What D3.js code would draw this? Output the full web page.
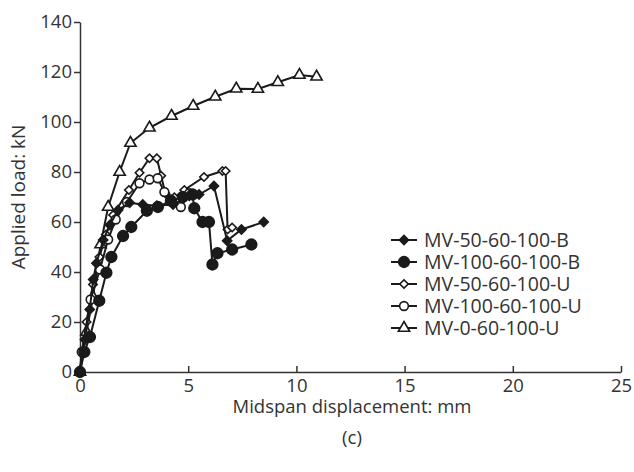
<!DOCTYPE html>
<html>
<head>
<meta charset="utf-8">
<script src="https://cdn.jsdelivr.net/npm/d3@7"></script>
<style>
	body { margin: 0; background: #fff; }
	text { font-family: "Open Sans", "Noto Sans", sans-serif; fill: #333; }
</style>
</head>
<body>
<div id="chart"></div>
<script>

var x_ticks = [0, 5, 10, 15, 20, 25];
var y_ticks = [0, 20, 40, 60, 80, 100, 120, 140];

var names = ['MV-50-60-100-B', 'MV-100-60-100-B', 'MV-50-60-100-U', 'MV-100-60-100-U', 'MV-0-60-100-U'];

// [displacement mm, load kN]
var mv50b = [[0,0],[0.23,13],[0.45,25],[0.61,37],[0.76,43.5],[1.07,52.8],[1.38,58.8],[1.76,64.8],[2.29,67.7],[2.9,67],[3.55,66.5],[4.3,67],[5.05,70.5],[5.5,71],[6.19,74.4],[6.8,52.5],[7.46,57],[8.49,60]];
var mv100b = [[0,0],[0.2,8],[0.46,14],[0.89,28.5],[1.22,39.7],[1.45,46],[1.99,54.4],[2.37,58],[3.09,64.5],[3.6,66],[4.2,68.5],[4.75,70],[5.2,71],[5.28,65.5],[5.66,60],[5.96,60],[6.12,43],[6.35,47.5],[7.03,49],[7.92,51]];
var mv50u = [[0,0],[0.3,20],[0.6,35],[0.9,46],[1.2,55],[1.53,62.8],[2.26,72.8],[2.75,79.7],[3.21,85.5],[3.55,85.5],[3.75,78.5],[3.94,71.5],[4.36,69.9],[4.82,72.8],[5.73,78],[6.58,80.4],[6.73,80.4],[6.82,57],[7.03,57.8]];
var mv100u = [[0,0],[0.08,8],[0.49,29],[0.92,41],[1.3,53],[1.65,61],[2.17,68],[2.75,75.5],[3.21,77],[3.59,77.5],[3.9,72],[4.66,66],[5.05,71.5]];
var mv0u = [[0,0],[0.3,16],[0.6,30],[0.95,51],[1.3,66],[1.83,80],[2.33,91.6],[3.21,97.7],[4.23,102.4],[5.23,106.4],[6.25,110.1],[7.22,113.3],[8.22,113.2],[9.14,115.9],[10.14,118.8],[10.93,118.1]];

var series = [
	{name: names[4], data: mv0u, shape: 'triangle', filled: false},
	{name: names[2], data: mv50u, shape: 'diamond', filled: false},
	{name: names[3], data: mv100u, shape: 'circle', filled: false},
	{name: names[1], data: mv100b, shape: 'circle', filled: true},
	{name: names[0], data: mv50b, shape: 'diamond', filled: true}
];

var width = 634, height = 472;
var ink = '#1a1a1a';

var svg = d3.select('#chart').append('svg')
	.attr('width', width)
	.attr('height', height);

var x = d3.scaleLinear().domain([0, 25]).range([80, 621]);
var y = d3.scaleLinear().domain([0, 140]).range([372, 22]);

// axes
var xaxis = svg.append('g')
	.attr('transform', 'translate(0,' + y(0) + ')')
	.call(d3.axisBottom(x).tickValues(x_ticks).tickSize(-6).tickPadding(7).tickSizeOuter(0));
var yaxis = svg.append('g')
	.attr('transform', 'translate(' + x(0) + ',0)')
	.call(d3.axisLeft(y).tickValues(y_ticks).tickSize(6).tickPadding(2).tickSizeOuter(0));

[xaxis, yaxis].forEach(function(a) {
	a.select('.domain').attr('stroke', '#333').attr('stroke-width', 1.5);
	a.selectAll('.tick line').attr('stroke', '#333').attr('stroke-width', 1.5);
	a.selectAll('.tick text').style('font-size', '18.5px').attr('fill', '#333');
});

svg.append('text')
	.attr('transform', 'translate(25,' + y(70) + ') rotate(-90)')
	.attr('text-anchor', 'middle')
	.style('font-size', '19px')
	.text('Applied load: kN');

svg.append('text')
	.attr('x', 352).attr('y', 413)
	.attr('text-anchor', 'middle')
	.style('font-size', '18.5px')
	.text('Midspan displacement: mm');

svg.append('text')
	.attr('x', 352).attr('y', 444)
	.attr('text-anchor', 'middle')
	.style('font-size', '18.5px')
	.text('(c)');

function marker(sel, shape, filled) {
	var p;
	if(shape == 'circle') p = d3.symbol(d3.symbolCircle, filled ? 90 : 60)();
	else if(shape == 'diamond') p = d3.symbol(d3.symbolSquare, filled ? 42 : 36)();
	else p = d3.symbol(d3.symbolTriangle, 55)();
	sel.append('path')
		.attr('d', p)
		.attr('transform', shape == 'diamond' ? 'rotate(45)' : null)
		.attr('fill', filled ? ink : '#fff')
		.attr('stroke', ink)
		.attr('stroke-width', 1.6);
}

var line = d3.line()
	.x(function(d) { return x(d[0]); })
	.y(function(d) { return y(d[1]); });

series.forEach(function(s) {
	var g = svg.append('g');
	g.append('path')
		.attr('d', line(s.data))
		.attr('fill', 'none')
		.attr('stroke', ink)
		.attr('stroke-width', 2);
	g.selectAll('.pt').data(s.data)
		.enter().append('g')
			.attr('class', 'pt')
			.attr('transform', function(d) { return 'translate(' + x(d[0]) + ',' + y(d[1]) + ')'; })
			.each(function() { marker(d3.select(this), s.shape, s.filled); });
});

// legend
var legend_order = [4, 3, 1, 2, 0];
legend_order.forEach(function(k, i) {
	var s = series[k];
	var ly = 240 + i * 22;
	var g = svg.append('g').attr('transform', 'translate(391,' + ly + ')');
	g.append('line')
		.attr('x1', 0).attr('x2', 26)
		.attr('stroke', ink).attr('stroke-width', 2);
	var m = g.append('g').attr('transform', 'translate(13,0)');
	marker(m, s.shape, s.filled);
	g.append('text')
		.attr('x', 33).attr('y', 7)
		.style('font-size', '19.5px')
		.text(s.name);
});

</script>
</body>
</html>
